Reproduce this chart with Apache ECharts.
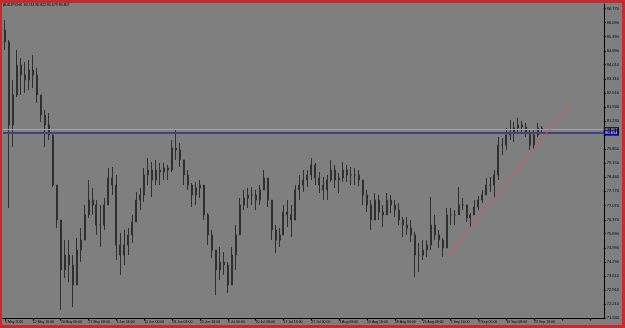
<!DOCTYPE html>
<html><head><meta charset="utf-8">
<script src="https://cdn.jsdelivr.net/npm/echarts@6/dist/echarts.min.js"></script>
<style>
html,body{margin:0;padding:0;width:625px;height:328px;overflow:hidden;background:#c9282d;}
#c{position:absolute;left:2px;top:3px;width:620px;height:322px;}
</style></head><body><div id="c"></div>
<script>
const symbolTitle = 'AUDJPY,H4  80.744 80.822 80.679 80.807';
const dateLabels = ['5 May 2020','12 May 16:00','20 May 00:00','27 May 08:00','3 Jun 16:00','11 Jun 00:00','18 Jun 08:00','25 Jun 16:00','3 Jul 00:00','10 Jul 08:00','17 Jul 16:00','27 Jul 00:00','3 Aug 08:00','10 Aug 16:00','18 Aug 00:00','25 Aug 08:00','1 Sep 16:00','9 Sep 00:00','16 Sep 08:00','23 Sep 16:00'];
const priceTicks = ['86.770','86.090','85.390','84.690','84.010','83.310','82.610','81.930','81.230','80.540','79.850','79.150','78.460','77.770','77.070','76.370','75.690','74.990','74.290','73.610','72.910','72.210','71.530'];
const firstOpen = 85.72;
const highs = [86.21,85.23,83.26,84.74,84.34,84.14,84.24,84.49,83.85,82.52,81.78,81.63,80.55,78.08,76.36,75.37,75.37,74.63,75.47,75.96,
77.10,78.33,77.94,77.34,77.10,77.44,78.92,78.97,78.58,75.72,75.87,75.96,76.61,77.74,77.94,78.92,79.41,79.22,79.32,79.17,
79.17,79.07,80.30,80.84,80.15,79.32,78.82,78.18,78.23,78.33,78.08,76.70,75.87,74.88,75.03,74.78,74.29,75.03,76.11,77.44,
77.84,77.94,77.98,77.84,78.08,78.82,78.43,77.34,76.11,75.96,77.10,77.34,77.10,78.08,78.58,78.82,78.82,79.41,79.17,78.72,
78.48,78.58,79.32,79.07,78.67,79.22,79.07,78.97,78.92,78.82,78.33,77.84,77.34,77.69,77.59,77.10,77.69,77.59,77.34,77.20,
76.51,76.51,76.36,75.77,75.23,75.37,75.37,77.49,76.61,75.87,75.47,76.95,76.95,76.85,77.98,77.44,77.10,76.70,77.34,77.54,
77.84,78.43,78.48,78.82,80.45,80.40,80.89,81.29,81.19,81.39,81.24,81.14,80.79,80.79,81.14,80.99];
const lows = [84.74,76.95,79.96,82.42,82.52,82.62,82.76,82.86,82.12,81.19,79.96,80.30,77.98,75.96,71.92,73.50,73.30,72.07,73.16,74.29,
75.37,76.46,76.61,75.62,75.03,75.87,77.10,77.59,74.39,73.65,74.14,74.63,75.23,76.26,76.85,77.25,78.08,77.49,78.08,78.08,
78.33,78.33,78.72,79.32,78.97,78.08,77.84,77.00,77.10,77.44,76.36,75.13,74.49,72.66,73.40,73.65,72.76,73.16,73.90,75.62,
76.85,76.95,77.10,76.85,77.10,77.84,77.00,75.37,74.73,75.03,75.62,76.01,75.52,76.36,77.34,77.74,77.98,78.33,78.08,77.69,
77.34,77.34,78.23,77.94,77.69,78.23,78.23,78.08,78.08,78.03,77.10,76.75,75.87,76.36,76.36,76.01,76.61,76.70,76.51,76.11,
75.52,75.62,75.27,73.55,73.80,74.39,74.54,74.88,75.37,74.98,74.54,74.98,76.11,76.11,76.61,76.85,76.26,75.96,76.61,76.85,
77.20,77.59,77.74,77.44,78.33,79.56,79.81,80.30,80.20,80.69,80.60,80.45,79.81,79.81,80.45,80.65];
const closes = [85.13,81.04,82.52,84.00,83.50,83.26,83.75,83.50,82.52,81.53,81.04,80.55,78.08,76.36,73.90,74.63,74.14,73.16,74.88,75.37,
76.61,77.34,77.10,76.11,76.11,77.10,78.43,78.08,75.13,74.63,75.13,75.62,76.26,77.34,77.59,78.58,78.82,78.33,78.82,78.72,
78.92,78.82,79.91,79.81,79.32,78.58,78.08,77.59,77.94,78.08,76.61,75.62,74.88,73.90,74.29,74.14,73.16,74.63,75.62,77.10,
77.44,77.59,77.59,77.34,77.84,78.43,77.34,75.87,75.37,75.62,76.75,76.61,76.36,77.84,78.08,78.33,78.58,79.07,78.43,78.08,
77.84,78.33,78.82,78.33,78.43,78.82,78.58,78.58,78.58,78.33,77.59,77.10,76.36,77.34,76.75,76.61,77.34,77.10,76.85,76.36,
76.11,75.96,75.62,74.63,74.63,74.88,75.13,76.11,75.62,75.37,74.98,76.61,76.61,76.61,77.10,77.10,76.46,76.61,77.00,77.34,
77.59,78.08,78.08,78.58,80.05,80.05,80.55,80.69,80.89,81.04,80.94,80.65,80.05,80.55,80.89,80.81];
const totalSlots = 151;
const labelEvery = 7;
const hLineValue = 80.654;
const bidValue = 80.807;
const trendStart = [111, 74.54];
const trendEnd = [142, 82.06];

const candles = closes.map((c, i) => [i === 0 ? firstOpen : closes[i - 1], c, lows[i], highs[i]]);
const slots = Array.from({length: totalSlots}, (_, i) => String(i));
const tickValues = priceTicks.map(Number);
const FONT = 'Liberation Sans';
const BAR = '#2f2f2f';

const chart = echarts.init(document.getElementById('c'), null, {renderer: 'canvas'});
chart.setOption({
  animation: false,
  backgroundColor: '#7f7f7f',
  title: {
    text: symbolTitle, left: 1, top: 0, padding: 0,
    textStyle: {fontSize: 3.5, color: '#000', fontWeight: 'normal', fontFamily: FONT}
  },
  grid: {left: 1, right: 16, top: 1, bottom: 6.5, containLabel: false},
  xAxis: {
    type: 'category', data: slots, boundaryGap: true,
    axisLine: {show: true, lineStyle: {color: '#000', width: 1}},
    axisTick: {show: true, interval: labelEvery - 1, alignWithLabel: true, length: 2, lineStyle: {color: '#000'}},
    axisLabel: {
      interval: labelEvery - 1, align: 'left', margin: 2, fontSize: 3.5, color: '#000', fontFamily: FONT,
      formatter: (v, i) => dateLabels[i / labelEvery] || ''
    },
    splitLine: {show: false}
  },
  yAxis: {
    type: 'value', position: 'right', min: 71.5056, max: 87.0016, scale: true,
    axisLine: {show: true, lineStyle: {color: '#000', width: 1}},
    axisTick: {show: true, length: 2, customValues: tickValues, lineStyle: {color: '#000'}},
    axisLabel: {customValues: tickValues, formatter: v => v.toFixed(3), fontSize: 4, margin: 3, color: '#000', fontFamily: FONT},
    splitLine: {show: false}
  },
  series: [{
    type: 'candlestick', data: candles, barWidth: 1.5, silent: true,
    itemStyle: {color: BAR, color0: BAR, borderColor: BAR, borderColor0: BAR, borderWidth: 1},
    markLine: {
      silent: true, symbol: ['none', 'none'], animation: false,
      data: [
        {yAxis: bidValue, lineStyle: {color: '#a4a4a4', width: 1, type: 'solid'},
         label: {show: true, position: 'end', distance: 0, formatter: bidValue.toFixed(3), backgroundColor: '#111', color: '#ddd', fontSize: 4, padding: [0.5, 1.5], fontFamily: FONT}},
        {yAxis: hLineValue, lineStyle: {color: '#42427f', width: 2, type: 'solid'},
         label: {show: true, position: 'end', distance: 0, formatter: hLineValue.toFixed(3), backgroundColor: '#00008b', color: '#fff', fontSize: 4, padding: [0.5, 1.5], fontFamily: FONT}},
        [{coord: trendStart, lineStyle: {color: '#d45a5a', width: 1, type: 'solid'}, label: {show: false}},
         {coord: trendEnd}]
      ]
    }
  }]
});
</script></body></html>
